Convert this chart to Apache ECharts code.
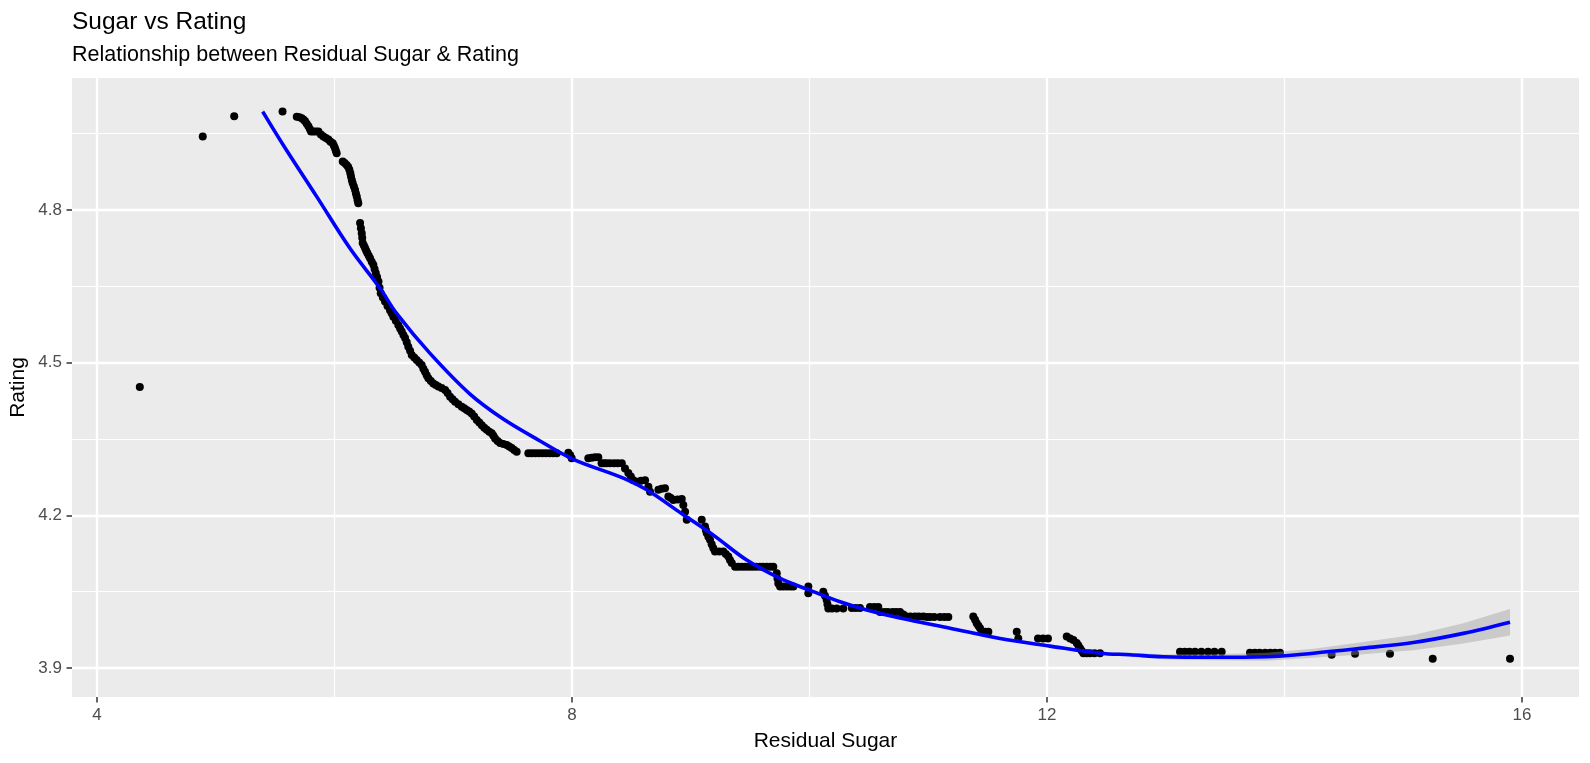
<!DOCTYPE html>
<html>
<head>
<meta charset="utf-8">
<script src="https://cdn.jsdelivr.net/npm/echarts@6/dist/echarts.min.js"></script>
<style>
html,body{margin:0;padding:0;background:#fff;}
#chart{width:1590px;height:763px;}
</style>
</head>
<body>
<div id="chart"></div>
<script>
// ---- data ----
const sugar = [
4.36,4.89,5.155,5.562,
5.682,5.705,5.724,5.740,5.752,5.766,5.780,5.792,5.802,5.822,5.843,5.864,5.885,5.906,5.927,5.948,5.966,5.985,5.995,6.004,6.011,6.018,
6.069,6.085,6.102,6.115,6.125,6.133,6.139,6.146,6.153,6.163,6.173,6.180,6.187,6.194,6.200,
6.215,6.222,6.229,6.233,6.237,6.247,6.257,6.266,6.276,6.288,6.299,6.313,6.327,6.337,6.347,6.358,6.370,6.379,6.389,6.407,6.425,6.446,6.467,6.481,6.495,6.516,6.537,6.552,6.566,6.580,6.594,6.608,6.621,6.636,6.650,6.671,6.692,6.713,6.734,6.748,6.762,6.776,6.790,6.811,6.832,6.853,6.874,6.902,6.931,6.952,6.973,6.994,7.015,7.043,7.071,7.092,7.113,7.134,7.155,7.176,7.198,7.219,7.240,7.261,7.282,7.303,7.324,7.338,7.352,7.373,7.394,7.422,7.450,7.471,7.492,7.513,7.534,
7.632,7.660,7.690,7.720,7.750,7.780,7.810,7.840,7.871,
7.969,7.985,7.997,
8.137,8.165,8.193,8.221,8.249,8.270,8.292,8.320,8.354,8.385,8.419,8.446,8.474,8.495,8.516,8.545,8.580,8.615,8.643,8.657,
8.727,8.755,8.783,8.811,8.832,8.853,8.888,8.924,8.937,8.952,8.966,
9.092,9.120,9.127,9.134,9.148,9.162,9.176,9.190,9.204,9.240,9.274,9.295,9.316,9.330,9.345,9.373,9.400,9.430,9.460,9.490,9.520,9.550,9.583,9.610,9.640,9.670,9.695,9.724,9.730,9.737,9.752,9.780,9.810,9.840,9.864,
9.990,9.990,
10.116,10.130,10.144,10.151,10.158,10.190,10.229,10.284,
10.356,10.390,10.425,
10.509,10.545,10.579,10.594,10.630,10.660,10.700,10.730,10.762,10.790,10.818,10.850,10.888,10.920,10.958,10.990,11.015,11.050,11.099,11.135,11.169,
11.379,11.394,11.408,11.422,11.436,11.450,11.480,11.506,
11.745,11.758,
11.924,11.966,12.008,
12.166,12.195,12.222,12.250,12.264,12.278,12.292,12.306,12.334,12.362,12.400,12.446,
13.120,13.160,13.200,13.246,13.300,13.356,13.410,13.471,
13.709,13.750,13.790,13.836,13.880,13.920,13.962,
14.397,14.594,14.888,15.248,15.899
];
const rating = [
4.452,4.944,4.984,4.993,
4.983,4.982,4.980,4.977,4.974,4.969,4.964,4.959,4.954,4.954,4.954,4.954,4.948,4.944,4.941,4.938,4.934,4.931,4.926,4.921,4.916,4.911,
4.895,4.892,4.888,4.884,4.879,4.872,4.865,4.858,4.852,4.846,4.839,4.832,4.826,4.819,4.813,
4.774,4.764,4.754,4.745,4.735,4.730,4.725,4.720,4.715,4.710,4.705,4.698,4.692,4.684,4.676,4.668,4.659,4.647,4.636,4.628,4.620,4.611,4.603,4.597,4.590,4.582,4.574,4.567,4.561,4.554,4.548,4.540,4.531,4.523,4.515,4.510,4.505,4.500,4.495,4.488,4.482,4.475,4.469,4.464,4.459,4.456,4.453,4.450,4.446,4.440,4.433,4.428,4.423,4.418,4.413,4.410,4.407,4.404,4.400,4.394,4.387,4.382,4.377,4.372,4.368,4.364,4.361,4.356,4.351,4.346,4.342,4.340,4.338,4.335,4.332,4.328,4.325,
4.322,4.322,4.322,4.322,4.322,4.322,4.322,4.322,4.322,
4.323,4.318,4.312,
4.312,4.313,4.314,4.314,4.302,4.302,4.302,4.302,4.302,4.302,4.302,4.292,4.283,4.276,4.269,4.266,4.268,4.269,4.256,4.246,
4.250,4.252,4.253,4.237,4.234,4.230,4.231,4.232,4.220,4.207,4.191,
4.191,4.178,4.171,4.165,4.158,4.152,4.143,4.135,4.129,4.129,4.129,4.124,4.119,4.112,4.106,4.099,4.099,4.099,4.099,4.099,4.099,4.099,4.099,4.099,4.099,4.099,4.099,4.086,4.076,4.066,4.060,4.060,4.060,4.060,4.060,
4.060,4.047,
4.050,4.042,4.034,4.025,4.017,4.017,4.017,4.017,
4.018,4.018,4.018,
4.020,4.020,4.020,4.010,4.010,4.010,4.010,4.010,4.010,4.005,4.001,4.001,4.001,4.001,4.001,4.000,4.000,4.000,4.000,4.000,4.000,
4.001,3.995,3.988,3.983,3.978,3.971,3.971,3.971,
3.971,3.958,
3.958,3.958,3.958,
3.962,3.958,3.955,3.949,3.944,3.939,3.934,3.929,3.929,3.929,3.929,3.929,
3.932,3.932,3.932,3.932,3.932,3.932,3.932,3.932,
3.930,3.930,3.930,3.930,3.930,3.930,3.930,
3.926,3.928,3.928,3.918,3.918
];
// loess smoother and its confidence half-width
const smoothX  = [5.395,5.569,5.850,6.131,6.383,6.524,6.804,7.141,7.421,7.731,8.011,8.432,8.629,8.937,9.190,9.471,9.752,10.032,10.257,10.482,10.762,11.183,11.604,12.025,12.446,12.699,12.979,13.400,13.850,14.243,14.664,15.085,15.506,15.899];
const smoothY  = [4.993,4.927,4.826,4.724,4.646,4.596,4.518,4.438,4.389,4.346,4.310,4.273,4.250,4.201,4.161,4.112,4.076,4.050,4.030,4.014,3.998,3.978,3.958,3.943,3.929,3.926,3.922,3.921,3.922,3.929,3.939,3.950,3.968,3.990];
const smoothSe = [0.006,0.005,0.004,0.004,0.003,0.003,0.003,0.003,0.003,0.003,0.003,0.003,0.003,0.003,0.003,0.003,0.003,0.003,0.003,0.003,0.003,0.003,0.003,0.003,0.003,0.004,0.005,0.006,0.008,0.009,0.012,0.015,0.020,0.026];
// axis ticks
const xMajor = [4, 8, 12, 16];
const xMinor = [6, 10, 14];
const yMajor = [3.9, 4.2, 4.5, 4.8];
const yMinor = [4.05, 4.35, 4.65, 4.95];

const FONT = "'Liberation Sans', Arial, sans-serif";
const chart = echarts.init(document.getElementById('chart'), null, {renderer: 'canvas'});

const points = sugar.map((x, i) => [x, rating[i]]);
const line = smoothX.map((x, i) => [x, smoothY[i]]);

const gridLines = [].concat(
  xMajor.map(v => ({xAxis: v, lineStyle: {color: '#ffffff', width: 2.4, type: 'solid'}})),
  xMinor.map(v => ({xAxis: v, lineStyle: {color: '#ffffff', width: 1.2, type: 'solid'}})),
  yMajor.map(v => ({yAxis: v, lineStyle: {color: '#ffffff', width: 2.4, type: 'solid'}})),
  yMinor.map(v => ({yAxis: v, lineStyle: {color: '#ffffff', width: 1.2, type: 'solid'}}))
);

function renderRibbon(params, api) {
  const pts = [];
  for (let i = 0; i < smoothX.length; i++) pts.push(api.coord([smoothX[i], smoothY[i] + smoothSe[i]]));
  for (let i = smoothX.length - 1; i >= 0; i--) pts.push(api.coord([smoothX[i], smoothY[i] - smoothSe[i]]));
  return {type: 'polygon', shape: {points: pts, smooth: 0}, style: {fill: 'rgba(153,153,153,0.4)'}, silent: true};
}

chart.setOption({
  animation: false,
  backgroundColor: '#ffffff',
  grid: {left: 72, right: 11, top: 78, bottom: 66, show: true, backgroundColor: '#EBEBEB', borderWidth: 0},
  xAxis: {
    type: 'value', min: 3.789, max: 16.48,
    axisLine: {show: false},
    axisTick: {show: true, length: 5.5, lineStyle: {color: '#333333', width: 1.5}, customValues: xMajor},
    axisLabel: {show: true, margin: 10, color: '#4D4D4D', fontSize: 17, fontFamily: FONT, customValues: xMajor},
    splitLine: {show: false}
  },
  yAxis: {
    type: 'value', min: 3.843, max: 5.059,
    axisLine: {show: false},
    axisTick: {show: true, length: 5.5, lineStyle: {color: '#333333', width: 1.5}, customValues: yMajor},
    axisLabel: {show: true, margin: 10, color: '#4D4D4D', fontSize: 17, fontFamily: FONT, customValues: yMajor},
    splitLine: {show: false}
  },
  graphic: [
    {type: 'text', x: 72, y: 22.5, style: {text: 'Sugar vs Rating', fontSize: 24.5, fontFamily: FONT, fill: '#000', align: 'left', verticalAlign: 'middle'}},
    {type: 'text', x: 72, y: 55.5, style: {text: 'Relationship between Residual Sugar & Rating', fontSize: 21.5, fontFamily: FONT, fill: '#000', align: 'left', verticalAlign: 'middle'}},
    {type: 'text', x: 825.5, y: 741, style: {text: 'Residual Sugar', fontSize: 21, fontFamily: FONT, fill: '#000', align: 'center', verticalAlign: 'middle'}},
    {type: 'text', x: 18.5, y: 387.5, rotation: Math.PI / 2, style: {text: 'Rating', fontSize: 21, fontFamily: FONT, fill: '#000', align: 'center', verticalAlign: 'middle'}}
  ],
  series: [
    {
      type: 'line', data: [], z: 1, silent: true,
      markLine: {silent: true, z: 1, symbol: ['none', 'none'], label: {show: false}, animation: false, data: gridLines}
    },
    {
      type: 'scatter', data: points, z: 2, symbol: 'circle', symbolSize: 8,
      itemStyle: {color: '#000000', opacity: 1}, silent: true
    },
    {
      type: 'custom', data: [0], z: 3, silent: true, renderItem: renderRibbon
    },
    {
      type: 'line', data: line, z: 4, symbol: 'none', smooth: 0.35, silent: true,
      lineStyle: {color: '#0000FF', width: 3.6}
    }
  ]
});
</script>
</body>
</html>
